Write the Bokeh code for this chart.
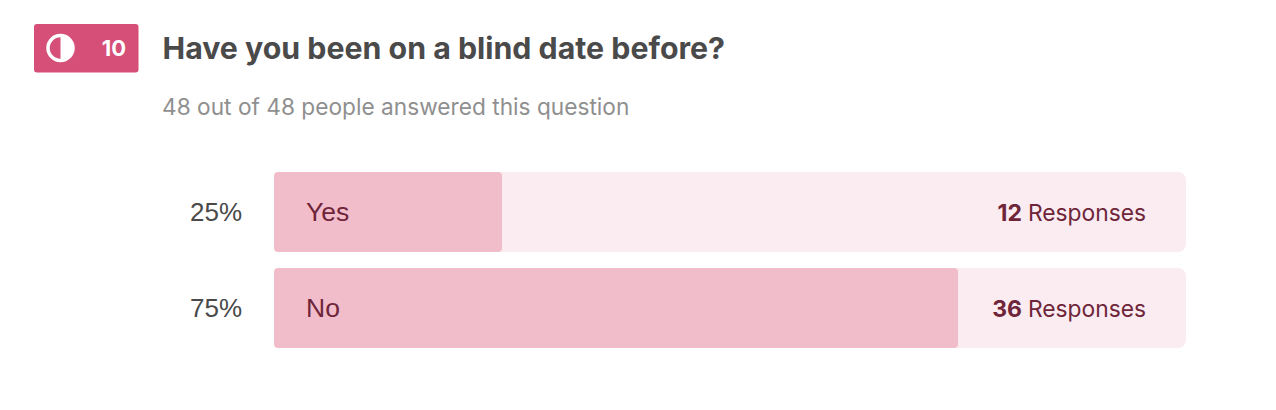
from math import pi
from bokeh.plotting import figure
from bokeh.models import Range1d
from bokeh.core.properties import value
from bokeh.embed import file_html
from bokeh.resources import INLINE

badge_number = "10"
title = "Have you been on a blind date before?"
subtitle = "48 out of 48 people answered this question"
categories = ["Yes", "No"]
percents = [25, 75]
counts = [12, 36]
percent_labels = ["25%", "75%"]
count_labels = ["12", "36"]
response_word = ["Responses", "Responses"]
rows = [0, 1]

W, H = 1260, 394
X0, PXX = 273.5, 9.12     # figure px of 0 %, px per percent
Y0, PXY = 211.5, 96       # figure px of row 0, px per row

def fx(page_px):
    return (page_px - X0) / PXX

def fy(page_px):
    return (page_px - Y0) / PXY

p = figure(width=W, height=H, output_backend="svg", toolbar_location=None,
           x_range=Range1d(-X0 / PXX, (W - X0) / PXX),
           y_range=Range1d((H - Y0) / PXY, -Y0 / PXY),
           min_border=0, outline_line_color=None, background_fill_color="white",
           border_fill_color="white")
p.axis.visible = False
p.grid.visible = False

# Tracks and bars
p.hbar(y=rows, left=0, right=100, height=80 / PXY, fill_color="#FBECF1",
       line_color=None, border_radius=8)
p.hbar(y=rows, left=0, right=percents, height=80 / PXY, fill_color="#F2BDCB",
       line_color=None, border_radius=4)

DARK = "#6E2539"
p.text(x=[0, 0], y=rows, text=percent_labels, x_offset=-32, text_align="right",
       text_baseline="middle", text_font=value("Liberation Sans"),
       text_font_size="26px", text_color="#4A4A4A")
p.text(x=[0, 0], y=rows, text=categories, x_offset=32, text_align="left",
       text_baseline="middle", text_font=value("Liberation Sans"),
       text_font_size="26.5px", text_color=DARK)
p.text(x=[100, 100], y=rows, text=response_word, x_offset=-40, text_align="right",
       text_baseline="middle", text_font=value("Inter"),
       text_font_size="22.8px", text_color=DARK)
p.text(x=[100, 100], y=rows, text=count_labels, x_offset=-164, text_align="right",
       text_baseline="middle", text_font=value("Inter"), text_font_style="bold",
       text_font_size="23px", text_color=DARK)

# Header badge
p.quad(left=[fx(33.5)], right=[fx(138)], top=[fy(23.5)], bottom=[fy(72)],
       fill_color="#D64F78", line_color=None, border_radius=3)
p.scatter(x=[fx(60)], y=[fy(47.5)], marker="circle", size=25, fill_color=None,
          line_color="white", line_width=3.5)
p.wedge(x=[fx(60)], y=[fy(47.5)], radius=13, radius_units="screen",
        start_angle=-pi / 2, end_angle=pi / 2, fill_color="white", line_color=None)
p.text(x=[fx(125.5)], y=[fy(47.5)], text=[badge_number], text_align="right",
       text_baseline="middle", text_font=value("Inter"), text_font_style="bold",
       text_font_size="22px", text_color="white")

p.text(x=[fx(162)], y=[fy(47.5)], text=[title], text_align="left",
       text_baseline="middle", text_font=value("Inter"), text_font_style="bold",
       text_font_size="30.3px", text_color="#4A4A4A")
p.text(x=[fx(161.5)], y=[fy(105.5)], text=[subtitle], text_align="left",
       text_baseline="middle", text_font=value("Inter"),
       text_font_size="22.7px", text_color="#8F8F8F")

open("out.html", "w").write(file_html(p, INLINE))
